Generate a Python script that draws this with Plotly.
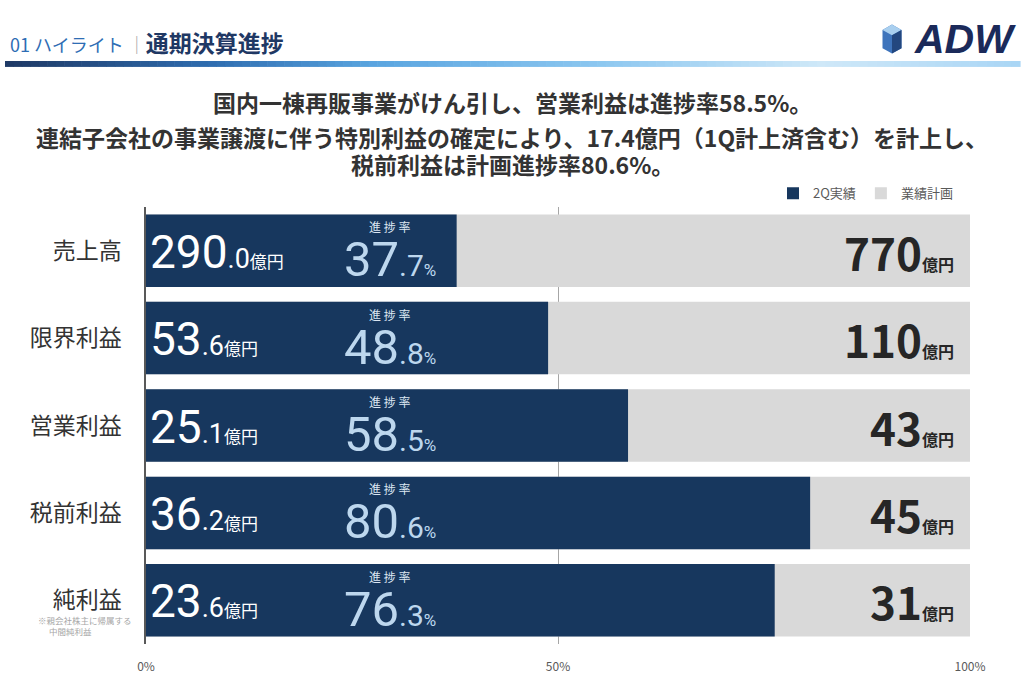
import plotly.graph_objects as go

# data
items = ["売上高", "限界利益", "営業利益", "税前利益", "純利益"]
actual_2q = [290.0, 53.6, 25.1, 36.2, 23.6]        # 億円
plan_full = [770, 110, 43, 45, 31]                 # 億円
progress_pct = [37.7, 48.8, 58.5, 80.6, 76.3]      # %
plan_pct = [100, 100, 100, 100, 100]
x_ticks = [0, 50, 100]
x_ticklabels = ["0%", "50%", "100%"]

NAVY = "#17375E"
GRAY = "#D9D9D9"
LIGHT = "#BDD7EE"
JP = "Noto Sans CJK JP"

W, H = 1024, 686
L, R, T, B = 146, 54, 207, 36


def px(x):
    return (x - L) / (W - L - R)


def py(y):
    return (H - B - y) / (H - T - B)


fig = go.Figure()
fig.add_trace(go.Bar(y=items, x=plan_pct, orientation="h", name="業績計画",
                     marker=dict(color=GRAY, line_width=0), hoverinfo="skip"))
fig.add_trace(go.Bar(y=items, x=progress_pct, orientation="h", name="2Q実績",
                     marker=dict(color=NAVY, line_width=0), hoverinfo="skip"))

ann = []
for i, (name, v, p, pl) in enumerate(zip(items, actual_2q, progress_pct, plan_full)):
    vi, vd = f"{v:.1f}".split(".")
    ann.append(dict(
        x=0.2, y=i, xanchor="left", yanchor="middle", yshift=-1, showarrow=False,
        text=(f"<span style='font-size:46px'>{vi}</span>"
              f"<span style='font-size:27px'>.{vd}</span>"
              f"<span style='font-size:17px'>億円</span>"),
        font=dict(family="Roboto, " + JP, color="white", size=17)))
    ann.append(dict(
        x=29.6, y=i, xanchor="center", yanchor="middle", yshift=24, showarrow=False,
        text="進 捗 率", font=dict(family=JP, color="#DCE6F2", size=12)))
    pi, pd_ = f"{p:.1f}".split(".")
    ann.append(dict(
        x=29.6, y=i, xanchor="center", yanchor="middle", yshift=-9, showarrow=False,
        text=(f"<span style='font-size:49px'>{pi}</span>"
              f"<span style='font-size:30px'>.{pd_}</span>"
              f"<span style='font-size:17px'>%</span>"),
        font=dict(family="Roboto, " + JP, color=LIGHT, size=17)))
    ann.append(dict(
        x=98.3, y=i, xanchor="right", yanchor="middle", yshift=-1, showarrow=False,
        text=(f"<b><span style='font-size:44px'>{pl}</span>"
              f"<span style='font-size:16px'>億円</span></b>"),
        font=dict(family=JP, color="#262626", size=16)))

# note under 純利益
ann.append(dict(xref="paper", yref="paper", x=px(36), y=py(626), xanchor="left",
                yanchor="middle", showarrow=False, text="※親会社株主に帰属する",
                font=dict(family=JP, size=8.5, color="#A6A6A6")))
ann.append(dict(xref="paper", yref="paper", x=px(47), y=py(637), xanchor="left",
                yanchor="middle", showarrow=False, text="中間純利益",
                font=dict(family=JP, size=8.5, color="#A6A6A6")))

# header
ann.append(dict(xref="paper", yref="paper", x=px(8), y=py(40), xanchor="left",
                yanchor="middle", showarrow=False,
                text="01 ハイライト <span style='color:#A6A6A6'>｜</span>"
                     "<span style='color:#1F3864;font-size:23px'><b>通期決算進捗</b></span>",
                font=dict(family=JP, size=18, color="#2E6DB4")))
ann.append(dict(xref="paper", yref="paper", x=px(1018), y=py(37), xanchor="right",
                yanchor="middle", showarrow=False, text="<b><i>ADW</i></b>",
                font=dict(family="Liberation Sans", size=41, color="#1B2A5A")))

# headline text
for txt, yy in [("国内一棟再販事業がけん引し、営業利益は進捗率58.5%。", 101),
                ("連結子会社の事業譲渡に伴う特別利益の確定により、17.4億円（1Q計上済含む）を計上し、", 136),
                ("税前利益は計画進捗率80.6%。", 163)]:
    ann.append(dict(xref="paper", yref="paper", x=px(512), y=py(yy), xanchor="center",
                    yanchor="middle", showarrow=False, text=f"<b>{txt}</b>",
                    font=dict(family=JP, size=23, color="#333333")))

shapes = []
# gradient rule under the header
stops = [(0.0, (31, 58, 102)), (0.2, (47, 109, 176)), (0.36, (90, 165, 224)),
         (0.58, (140, 199, 240)), (0.8, (207, 232, 248)), (1.0, (168, 213, 245))]


def grad(f):
    for (f0, c0), (f1, c1) in zip(stops, stops[1:]):
        if f0 <= f <= f1:
            t = (f - f0) / (f1 - f0)
            return "rgb(%d,%d,%d)" % tuple(round(a + (b - a) * t) for a, b in zip(c0, c1))
    return "rgb(%d,%d,%d)" % stops[-1][1]


n = 120
x0, x1 = 5, 1020
for k in range(n):
    a = x0 + (x1 - x0) * k / n
    b = x0 + (x1 - x0) * (k + 1) / n + 0.6
    shapes.append(dict(type="rect", xref="paper", yref="paper", x0=px(a), x1=px(b),
                       y0=py(65), y1=py(59), fillcolor=grad(k / n), line_width=0, layer="above"))

# logo icon
cx = 892


def poly(pts, color):
    path = "M " + " L ".join(f"{px(a):.5f},{py(b):.5f}" for a, b in pts) + " Z"
    shapes.append(dict(type="path", xref="paper", yref="paper", path=path,
                       fillcolor=color, line_width=0))


poly([(cx, 22), (cx + 9.5, 27.5), (cx + 9.5, 46), (cx, 51.5), (cx - 9.5, 46), (cx - 9.5, 27.5)], "#3E74BC")
poly([(cx, 22), (cx + 9.5, 27.5), (cx, 33), (cx - 9.5, 27.5)], "#A9CFEF")
poly([(cx, 33), (cx + 9.5, 27.5), (cx + 9.5, 46), (cx, 51.5)], "#23477F")

fig.update_layout(
    width=W, height=H,
    margin=dict(l=L, r=R, t=T, b=B),
    paper_bgcolor="white", plot_bgcolor="white",
    barmode="overlay", bargap=0.17,
    font=dict(family=JP, color="#333333"),
    showlegend=True,
    legend=dict(orientation="h", traceorder="reversed", x=px(958), y=py(193),
                xanchor="right", yanchor="middle", font=dict(size=13, color="#595959"),
                itemwidth=30, bgcolor="rgba(0,0,0,0)"),
    annotations=ann, shapes=shapes,
)
fig.update_xaxes(range=[0, 100], tickvals=x_ticks, ticktext=x_ticklabels,
                 showgrid=True, gridcolor="#A6A6A6", gridwidth=1, zeroline=False,
                 tickfont=dict(size=12, color="#595959"), ticklabelstandoff=14,
                 fixedrange=True)
fig.update_yaxes(type="category", categoryorder="array", categoryarray=items,
                 autorange="reversed", showline=True, linecolor="#595959", linewidth=1.5,
                 tickfont=dict(size=23, color="#333333"), ticklabelstandoff=18,
                 showgrid=False, fixedrange=True)

fig.write_html("out.html", config={"displayModeBar": False},
               post_script="document.body.style.margin='0';document.body.style.overflow='hidden';")
